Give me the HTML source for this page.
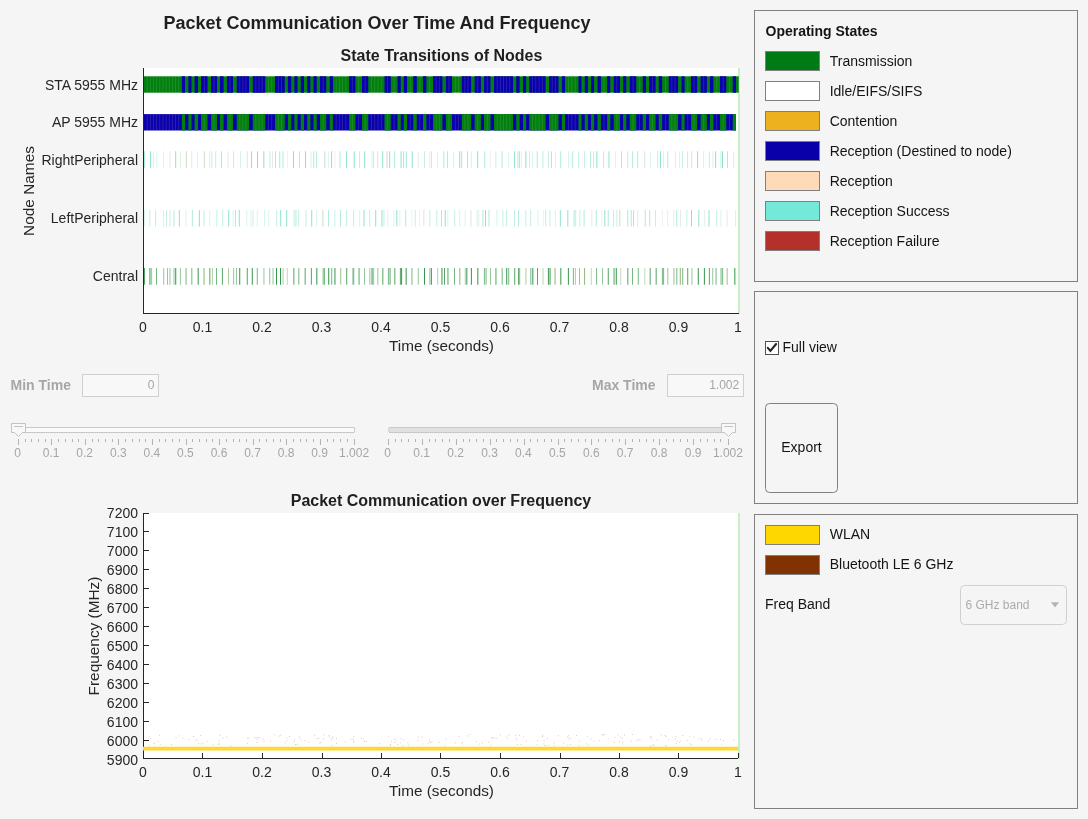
<!DOCTYPE html>
<html><head><meta charset="utf-8"><title>Packet Communication</title>
<style>
html,body{margin:0;padding:0;background:#f5f5f5;}
body{width:1088px;height:819px;overflow:hidden;}
svg{display:block;will-change:transform;font-family:"Liberation Sans",Arial,Helvetica,sans-serif;}
</style></head><body>
<svg width="1088" height="819" viewBox="0 0 1088 819">
<text x="377" y="29" font-size="18" text-anchor="middle" font-weight="bold" fill="#1f1f1f" >Packet Communication Over Time And Frequency</text>
<text x="441.5" y="61" font-size="16" text-anchor="middle" font-weight="bold" fill="#1f1f1f" >State Transitions of Nodes</text>
<rect x="143" y="68" width="595" height="246" fill="#ffffff" />
<rect x="738" y="68" width="2" height="246" fill="#c6f1c2" />
<rect x="144" y="76.3" width="594.75" height="16.4" fill="#01800f"/>
<path d="M181.90 76.3H185.00v16.4H181.90zM188.40 76.3H191.50v16.4H188.40zM194.60 76.3H198.00v16.4H194.60zM201.00 76.3H207.50v16.4H201.00zM211.00 76.3H217.00v16.4H211.00zM220.00 76.3H223.60v16.4H220.00zM226.90 76.3H233.00v16.4H226.90zM236.75 76.3H249.00v16.4H236.75zM252.75 76.3H265.25v16.4H252.75zM275.00 76.3H284.75v16.4H275.00zM287.90 76.3H291.25v16.4H287.90zM294.40 76.3H297.50v16.4H294.40zM300.75 76.3H304.00v16.4H300.75zM307.25 76.3H310.40v16.4H307.25zM313.50 76.3H316.75v16.4H313.50zM320.00 76.3H326.25v16.4H320.00zM329.75 76.3H332.90v16.4H329.75zM349.10 76.3H355.40v16.4H349.10zM362.00 76.3H368.25v16.4H362.00zM384.50 76.3H390.75v16.4H384.50zM397.50 76.3H400.75v16.4H397.50zM403.75 76.3H407.00v16.4H403.75zM413.25 76.3H416.75v16.4H413.25zM423.00 76.3H426.40v16.4H423.00zM433.00 76.3H442.40v16.4H433.00zM445.90 76.3H452.00v16.4H445.90zM461.75 76.3H471.10v16.4H461.75zM474.60 76.3H480.90v16.4H474.60zM484.00 76.3H490.50v16.4H484.00zM494.00 76.3H513.00v16.4H494.00zM516.25 76.3H519.60v16.4H516.25zM523.00 76.3H526.10v16.4H523.00zM529.25 76.3H545.60v16.4H529.25zM549.00 76.3H558.50v16.4H549.00zM561.90 76.3H565.00v16.4H561.90zM578.50 76.3H581.50v16.4H578.50zM584.75 76.3H587.90v16.4H584.75zM591.00 76.3H594.10v16.4H591.00zM597.50 76.3H600.90v16.4H597.50zM607.10 76.3H610.25v16.4H607.10zM613.75 76.3H620.00v16.4H613.75zM623.10 76.3H626.25v16.4H623.10zM629.75 76.3H636.25v16.4H629.75zM642.75 76.3H646.00v16.4H642.75zM649.10 76.3H655.60v16.4H649.10zM658.75 76.3H662.10v16.4H658.75zM668.75 76.3H678.10v16.4H668.75zM681.50 76.3H684.60v16.4H681.50zM691.00 76.3H697.10v16.4H691.00zM700.60 76.3H706.90v16.4H700.60zM710.00 76.3H713.40v16.4H710.00zM720.00 76.3H726.25v16.4H720.00zM732.75 76.3H736.00v16.4H732.75z" fill="#0a00ae"/>
<rect x="144" y="114.1" width="592.00" height="16.4" fill="#0a00ae"/>
<path d="M181.90 114.1H185.00v16.4H181.90zM188.40 114.1H191.50v16.4H188.40zM194.60 114.1H198.00v16.4H194.60zM201.00 114.1H207.50v16.4H201.00zM211.00 114.1H217.00v16.4H211.00zM220.00 114.1H223.60v16.4H220.00zM226.90 114.1H233.00v16.4H226.90zM236.75 114.1H249.00v16.4H236.75zM252.75 114.1H265.25v16.4H252.75zM275.00 114.1H284.75v16.4H275.00zM287.90 114.1H291.25v16.4H287.90zM294.40 114.1H297.50v16.4H294.40zM300.75 114.1H304.00v16.4H300.75zM307.25 114.1H310.40v16.4H307.25zM313.50 114.1H316.75v16.4H313.50zM320.00 114.1H326.25v16.4H320.00zM329.75 114.1H332.90v16.4H329.75zM349.10 114.1H355.40v16.4H349.10zM362.00 114.1H368.25v16.4H362.00zM384.50 114.1H390.75v16.4H384.50zM397.50 114.1H400.75v16.4H397.50zM403.75 114.1H407.00v16.4H403.75zM413.25 114.1H416.75v16.4H413.25zM423.00 114.1H426.40v16.4H423.00zM433.00 114.1H442.40v16.4H433.00zM445.90 114.1H452.00v16.4H445.90zM461.75 114.1H471.10v16.4H461.75zM474.60 114.1H480.90v16.4H474.60zM484.00 114.1H490.50v16.4H484.00zM494.00 114.1H513.00v16.4H494.00zM516.25 114.1H519.60v16.4H516.25zM523.00 114.1H526.10v16.4H523.00zM529.25 114.1H545.60v16.4H529.25zM549.00 114.1H558.50v16.4H549.00zM561.90 114.1H565.00v16.4H561.90zM578.50 114.1H581.50v16.4H578.50zM584.75 114.1H587.90v16.4H584.75zM591.00 114.1H594.10v16.4H591.00zM597.50 114.1H600.90v16.4H597.50zM607.10 114.1H610.25v16.4H607.10zM613.75 114.1H620.00v16.4H613.75zM623.10 114.1H626.25v16.4H623.10zM629.75 114.1H636.25v16.4H629.75zM642.75 114.1H646.00v16.4H642.75zM649.10 114.1H655.60v16.4H649.10zM658.75 114.1H662.10v16.4H658.75zM668.75 114.1H678.10v16.4H668.75zM681.50 114.1H684.60v16.4H681.50zM691.00 114.1H697.10v16.4H691.00zM700.60 114.1H706.90v16.4H700.60zM710.00 114.1H713.40v16.4H710.00zM720.00 114.1H726.25v16.4H720.00zM732.75 114.1H736.00v16.4H732.75z" fill="#01800f"/>
<path d="M146.76 76.3h0.8v16.4h-0.8zM146.76 114.1h0.8v16.4h-0.8zM149.92 76.3h0.8v16.4h-0.8zM149.92 114.1h0.8v16.4h-0.8zM153.07 76.3h0.8v16.4h-0.8zM153.07 114.1h0.8v16.4h-0.8zM156.23 76.3h0.8v16.4h-0.8zM156.23 114.1h0.8v16.4h-0.8zM159.39 76.3h0.8v16.4h-0.8zM159.39 114.1h0.8v16.4h-0.8zM162.55 76.3h0.8v16.4h-0.8zM162.55 114.1h0.8v16.4h-0.8zM165.71 76.3h0.8v16.4h-0.8zM165.71 114.1h0.8v16.4h-0.8zM168.87 76.3h0.8v16.4h-0.8zM168.87 114.1h0.8v16.4h-0.8zM172.03 76.3h0.8v16.4h-0.8zM172.03 114.1h0.8v16.4h-0.8zM175.18 76.3h0.8v16.4h-0.8zM175.18 114.1h0.8v16.4h-0.8zM178.34 76.3h0.8v16.4h-0.8zM178.34 114.1h0.8v16.4h-0.8zM203.85 76.3h0.8v16.4h-0.8zM203.85 114.1h0.8v16.4h-0.8zM213.60 76.3h0.8v16.4h-0.8zM213.60 114.1h0.8v16.4h-0.8zM229.55 76.3h0.8v16.4h-0.8zM229.55 114.1h0.8v16.4h-0.8zM239.41 76.3h0.8v16.4h-0.8zM239.41 114.1h0.8v16.4h-0.8zM242.47 76.3h0.8v16.4h-0.8zM242.47 114.1h0.8v16.4h-0.8zM245.54 76.3h0.8v16.4h-0.8zM245.54 114.1h0.8v16.4h-0.8zM255.47 76.3h0.8v16.4h-0.8zM255.47 114.1h0.8v16.4h-0.8zM258.60 76.3h0.8v16.4h-0.8zM258.60 114.1h0.8v16.4h-0.8zM261.73 76.3h0.8v16.4h-0.8zM261.73 114.1h0.8v16.4h-0.8zM268.10 76.3h0.8v16.4h-0.8zM268.10 114.1h0.8v16.4h-0.8zM271.35 76.3h0.8v16.4h-0.8zM271.35 114.1h0.8v16.4h-0.8zM277.85 76.3h0.8v16.4h-0.8zM277.85 114.1h0.8v16.4h-0.8zM281.10 76.3h0.8v16.4h-0.8zM281.10 114.1h0.8v16.4h-0.8zM322.73 76.3h0.8v16.4h-0.8zM322.73 114.1h0.8v16.4h-0.8zM335.74 76.3h0.8v16.4h-0.8zM335.74 114.1h0.8v16.4h-0.8zM338.98 76.3h0.8v16.4h-0.8zM338.98 114.1h0.8v16.4h-0.8zM342.22 76.3h0.8v16.4h-0.8zM342.22 114.1h0.8v16.4h-0.8zM345.46 76.3h0.8v16.4h-0.8zM345.46 114.1h0.8v16.4h-0.8zM351.85 76.3h0.8v16.4h-0.8zM351.85 114.1h0.8v16.4h-0.8zM358.30 76.3h0.8v16.4h-0.8zM358.30 114.1h0.8v16.4h-0.8zM364.73 76.3h0.8v16.4h-0.8zM364.73 114.1h0.8v16.4h-0.8zM371.10 76.3h0.8v16.4h-0.8zM371.10 114.1h0.8v16.4h-0.8zM374.35 76.3h0.8v16.4h-0.8zM374.35 114.1h0.8v16.4h-0.8zM377.60 76.3h0.8v16.4h-0.8zM377.60 114.1h0.8v16.4h-0.8zM380.85 76.3h0.8v16.4h-0.8zM380.85 114.1h0.8v16.4h-0.8zM387.23 76.3h0.8v16.4h-0.8zM387.23 114.1h0.8v16.4h-0.8zM393.73 76.3h0.8v16.4h-0.8zM393.73 114.1h0.8v16.4h-0.8zM409.73 76.3h0.8v16.4h-0.8zM409.73 114.1h0.8v16.4h-0.8zM419.48 76.3h0.8v16.4h-0.8zM419.48 114.1h0.8v16.4h-0.8zM429.30 76.3h0.8v16.4h-0.8zM429.30 114.1h0.8v16.4h-0.8zM435.73 76.3h0.8v16.4h-0.8zM435.73 114.1h0.8v16.4h-0.8zM438.87 76.3h0.8v16.4h-0.8zM438.87 114.1h0.8v16.4h-0.8zM448.55 76.3h0.8v16.4h-0.8zM448.55 114.1h0.8v16.4h-0.8zM454.85 76.3h0.8v16.4h-0.8zM454.85 114.1h0.8v16.4h-0.8zM458.10 76.3h0.8v16.4h-0.8zM458.10 114.1h0.8v16.4h-0.8zM464.47 76.3h0.8v16.4h-0.8zM464.47 114.1h0.8v16.4h-0.8zM467.58 76.3h0.8v16.4h-0.8zM467.58 114.1h0.8v16.4h-0.8zM477.35 76.3h0.8v16.4h-0.8zM477.35 114.1h0.8v16.4h-0.8zM486.85 76.3h0.8v16.4h-0.8zM486.85 114.1h0.8v16.4h-0.8zM496.77 76.3h0.8v16.4h-0.8zM496.77 114.1h0.8v16.4h-0.8zM499.93 76.3h0.8v16.4h-0.8zM499.93 114.1h0.8v16.4h-0.8zM503.10 76.3h0.8v16.4h-0.8zM503.10 114.1h0.8v16.4h-0.8zM506.27 76.3h0.8v16.4h-0.8zM506.27 114.1h0.8v16.4h-0.8zM509.43 76.3h0.8v16.4h-0.8zM509.43 114.1h0.8v16.4h-0.8zM532.12 76.3h0.8v16.4h-0.8zM532.12 114.1h0.8v16.4h-0.8zM535.39 76.3h0.8v16.4h-0.8zM535.39 114.1h0.8v16.4h-0.8zM538.66 76.3h0.8v16.4h-0.8zM538.66 114.1h0.8v16.4h-0.8zM541.93 76.3h0.8v16.4h-0.8zM541.93 114.1h0.8v16.4h-0.8zM551.77 76.3h0.8v16.4h-0.8zM551.77 114.1h0.8v16.4h-0.8zM554.93 76.3h0.8v16.4h-0.8zM554.93 114.1h0.8v16.4h-0.8zM567.98 76.3h0.8v16.4h-0.8zM567.98 114.1h0.8v16.4h-0.8zM571.35 76.3h0.8v16.4h-0.8zM571.35 114.1h0.8v16.4h-0.8zM574.73 76.3h0.8v16.4h-0.8zM574.73 114.1h0.8v16.4h-0.8zM603.60 76.3h0.8v16.4h-0.8zM603.60 114.1h0.8v16.4h-0.8zM616.48 76.3h0.8v16.4h-0.8zM616.48 114.1h0.8v16.4h-0.8zM632.60 76.3h0.8v16.4h-0.8zM632.60 114.1h0.8v16.4h-0.8zM639.10 76.3h0.8v16.4h-0.8zM639.10 114.1h0.8v16.4h-0.8zM651.95 76.3h0.8v16.4h-0.8zM651.95 114.1h0.8v16.4h-0.8zM665.02 76.3h0.8v16.4h-0.8zM665.02 114.1h0.8v16.4h-0.8zM671.47 76.3h0.8v16.4h-0.8zM671.47 114.1h0.8v16.4h-0.8zM674.58 76.3h0.8v16.4h-0.8zM674.58 114.1h0.8v16.4h-0.8zM687.40 76.3h0.8v16.4h-0.8zM687.40 114.1h0.8v16.4h-0.8zM693.65 76.3h0.8v16.4h-0.8zM693.65 114.1h0.8v16.4h-0.8zM703.35 76.3h0.8v16.4h-0.8zM703.35 114.1h0.8v16.4h-0.8zM716.30 76.3h0.8v16.4h-0.8zM716.30 114.1h0.8v16.4h-0.8zM722.73 76.3h0.8v16.4h-0.8zM722.73 114.1h0.8v16.4h-0.8zM729.10 76.3h0.8v16.4h-0.8zM729.10 114.1h0.8v16.4h-0.8z" fill="#c8c8a0" fill-opacity="0.2"/>
<path d="M144.00 151.3h0.75v16.7h-0.75zM221.00 151.3h0.75v16.7h-0.75zM275.30 151.3h0.75v16.7h-0.75zM279.40 151.3h0.75v16.7h-0.75zM282.60 151.3h0.75v16.7h-0.75zM299.20 151.3h0.75v16.7h-0.75zM313.40 151.3h0.75v16.7h-0.75zM316.40 151.3h0.75v16.7h-0.75zM339.60 151.3h0.75v16.7h-0.75zM394.40 151.3h0.75v16.7h-0.75zM403.20 151.3h0.75v16.7h-0.75zM406.20 151.3h0.75v16.7h-0.75zM443.50 151.3h0.75v16.7h-0.75zM447.30 151.3h0.75v16.7h-0.75zM484.40 151.3h0.75v16.7h-0.75zM501.70 151.3h0.75v16.7h-0.75zM517.60 151.3h0.75v16.7h-0.75zM519.30 151.3h0.75v16.7h-0.75zM536.80 151.3h0.75v16.7h-0.75zM551.20 151.3h0.75v16.7h-0.75zM560.40 151.3h0.75v16.7h-0.75zM572.40 151.3h0.75v16.7h-0.75zM590.30 151.3h0.75v16.7h-0.75zM621.10 151.3h0.75v16.7h-0.75zM632.40 151.3h0.75v16.7h-0.75zM637.40 151.3h0.75v16.7h-0.75zM667.40 151.3h0.75v16.7h-0.75zM727.20 151.3h0.75v16.7h-0.75z" fill="#4fd3b3" fill-opacity="0.6"/>
<path d="M150.30 151.3h0.75v16.7h-0.75zM175.40 151.3h0.75v16.7h-0.75zM251.30 151.3h0.75v16.7h-0.75zM257.10 151.3h0.75v16.7h-0.75zM263.50 151.3h0.75v16.7h-0.75zM293.10 151.3h0.75v16.7h-0.75zM305.10 151.3h0.75v16.7h-0.75zM331.30 151.3h0.75v16.7h-0.75zM346.30 151.3h0.75v16.7h-0.75zM353.80 151.3h0.75v16.7h-0.75zM364.40 151.3h0.75v16.7h-0.75zM382.40 151.3h0.75v16.7h-0.75zM389.40 151.3h0.75v16.7h-0.75zM400.70 151.3h0.75v16.7h-0.75zM411.80 151.3h0.75v16.7h-0.75zM459.40 151.3h0.75v16.7h-0.75zM477.40 151.3h0.75v16.7h-0.75zM514.30 151.3h0.75v16.7h-0.75zM525.50 151.3h0.75v16.7h-0.75zM596.50 151.3h0.75v16.7h-0.75zM608.60 151.3h0.75v16.7h-0.75zM660.20 151.3h0.75v16.7h-0.75zM697.30 151.3h0.75v16.7h-0.75zM715.30 151.3h0.75v16.7h-0.75zM722.20 151.3h0.75v16.7h-0.75z" fill="#4fd3b3" fill-opacity="0.85"/>
<path d="M153.30 151.3h0.75v16.7h-0.75zM156.50 151.3h0.75v16.7h-0.75zM163.30 151.3h0.75v16.7h-0.75zM191.40 151.3h0.75v16.7h-0.75zM197.40 151.3h0.75v16.7h-0.75zM240.00 151.3h0.75v16.7h-0.75zM310.60 151.3h0.75v16.7h-0.75zM328.30 151.3h0.75v16.7h-0.75zM371.60 151.3h0.75v16.7h-0.75zM437.30 151.3h0.75v16.7h-0.75zM453.40 151.3h0.75v16.7h-0.75zM470.90 151.3h0.75v16.7h-0.75zM508.30 151.3h0.75v16.7h-0.75zM521.30 151.3h0.75v16.7h-0.75zM532.40 151.3h0.75v16.7h-0.75zM555.10 151.3h0.75v16.7h-0.75zM568.20 151.3h0.75v16.7h-0.75zM615.30 151.3h0.75v16.7h-0.75zM650.20 151.3h0.75v16.7h-0.75zM663.20 151.3h0.75v16.7h-0.75zM675.20 151.3h0.75v16.7h-0.75zM679.30 151.3h0.75v16.7h-0.75zM703.10 151.3h0.75v16.7h-0.75zM712.60 151.3h0.75v16.7h-0.75z" fill="#4fd3b3" fill-opacity="0.3"/>
<path d="M169.60 151.3h0.75v16.7h-0.75zM179.90 151.3h0.75v16.7h-0.75zM209.40 151.3h0.75v16.7h-0.75zM227.70 151.3h0.75v16.7h-0.75zM272.30 151.3h0.75v16.7h-0.75zM417.80 151.3h0.75v16.7h-0.75zM429.50 151.3h0.75v16.7h-0.75zM733.40 151.3h0.75v16.7h-0.75z" fill="#b8c8a8" fill-opacity="0.45"/>
<path d="M185.90 151.3h0.75v16.7h-0.75zM203.90 151.3h0.75v16.7h-0.75zM324.50 151.3h0.75v16.7h-0.75zM386.60 151.3h0.75v16.7h-0.75zM461.40 151.3h0.75v16.7h-0.75zM467.30 151.3h0.75v16.7h-0.75z" fill="#b8c8a8" fill-opacity="0.85"/>
<path d="M211.50 151.3h0.75v16.7h-0.75zM215.40 151.3h0.75v16.7h-0.75zM233.30 151.3h0.75v16.7h-0.75zM246.80 151.3h0.75v16.7h-0.75zM269.60 151.3h0.75v16.7h-0.75zM373.20 151.3h0.75v16.7h-0.75zM377.40 151.3h0.75v16.7h-0.75zM424.00 151.3h0.75v16.7h-0.75zM431.10 151.3h0.75v16.7h-0.75zM495.50 151.3h0.75v16.7h-0.75zM542.60 151.3h0.75v16.7h-0.75zM548.20 151.3h0.75v16.7h-0.75zM578.40 151.3h0.75v16.7h-0.75zM584.20 151.3h0.75v16.7h-0.75zM593.30 151.3h0.75v16.7h-0.75zM603.30 151.3h0.75v16.7h-0.75zM627.40 151.3h0.75v16.7h-0.75zM657.40 151.3h0.75v16.7h-0.75zM682.30 151.3h0.75v16.7h-0.75zM687.30 151.3h0.75v16.7h-0.75zM708.90 151.3h0.75v16.7h-0.75zM720.60 151.3h0.75v16.7h-0.75z" fill="#4fd3b3" fill-opacity="0.45"/>
<path d="M287.30 151.3h0.75v16.7h-0.75zM334.50 151.3h0.75v16.7h-0.75zM490.00 151.3h0.75v16.7h-0.75z" fill="#b8c8a8" fill-opacity="0.3"/>
<path d="M359.10 151.3h0.75v16.7h-0.75zM529.30 151.3h0.75v16.7h-0.75zM644.40 151.3h0.75v16.7h-0.75zM691.50 151.3h0.75v16.7h-0.75z" fill="#b8c8a8" fill-opacity="0.6"/>
<path d="M144.00 209.9h0.75v16.6h-0.75zM185.60 209.9h0.75v16.6h-0.75zM209.40 209.9h0.75v16.6h-0.75zM232.70 209.9h0.75v16.6h-0.75zM246.50 209.9h0.75v16.6h-0.75zM250.50 209.9h0.75v16.6h-0.75zM256.80 209.9h0.75v16.6h-0.75zM264.30 209.9h0.75v16.6h-0.75zM268.50 209.9h0.75v16.6h-0.75zM316.40 209.9h0.75v16.6h-0.75zM359.40 209.9h0.75v16.6h-0.75zM387.40 209.9h0.75v16.6h-0.75zM393.50 209.9h0.75v16.6h-0.75zM399.50 209.9h0.75v16.6h-0.75zM447.50 209.9h0.75v16.6h-0.75zM459.40 209.9h0.75v16.6h-0.75zM464.80 209.9h0.75v16.6h-0.75zM478.40 209.9h0.75v16.6h-0.75zM496.40 209.9h0.75v16.6h-0.75zM537.60 209.9h0.75v16.6h-0.75zM554.90 209.9h0.75v16.6h-0.75zM667.40 209.9h0.75v16.6h-0.75zM673.50 209.9h0.75v16.6h-0.75zM720.60 209.9h0.75v16.6h-0.75zM735.20 209.9h0.75v16.6h-0.75z" fill="#4fd3b3" fill-opacity="0.3"/>
<path d="M149.50 209.9h0.75v16.6h-0.75zM155.30 209.9h0.75v16.6h-0.75zM166.10 209.9h0.75v16.6h-0.75zM169.50 209.9h0.75v16.6h-0.75zM203.60 209.9h0.75v16.6h-0.75zM216.50 209.9h0.75v16.6h-0.75zM222.40 209.9h0.75v16.6h-0.75zM276.40 209.9h0.75v16.6h-0.75zM293.70 209.9h0.75v16.6h-0.75zM298.40 209.9h0.75v16.6h-0.75zM305.60 209.9h0.75v16.6h-0.75zM334.50 209.9h0.75v16.6h-0.75zM346.30 209.9h0.75v16.6h-0.75zM353.30 209.9h0.75v16.6h-0.75zM369.40 209.9h0.75v16.6h-0.75zM383.60 209.9h0.75v16.6h-0.75zM414.80 209.9h0.75v16.6h-0.75zM429.50 209.9h0.75v16.6h-0.75zM436.50 209.9h0.75v16.6h-0.75zM454.40 209.9h0.75v16.6h-0.75zM502.50 209.9h0.75v16.6h-0.75zM506.30 209.9h0.75v16.6h-0.75zM514.30 209.9h0.75v16.6h-0.75zM525.50 209.9h0.75v16.6h-0.75zM530.40 209.9h0.75v16.6h-0.75zM545.40 209.9h0.75v16.6h-0.75zM549.60 209.9h0.75v16.6h-0.75zM575.40 209.9h0.75v16.6h-0.75zM579.50 209.9h0.75v16.6h-0.75zM616.50 209.9h0.75v16.6h-0.75zM655.20 209.9h0.75v16.6h-0.75zM686.50 209.9h0.75v16.6h-0.75zM716.40 209.9h0.75v16.6h-0.75z" fill="#4fd3b3" fill-opacity="0.45"/>
<path d="M163.30 209.9h0.75v16.6h-0.75zM476.70 209.9h0.75v16.6h-0.75zM591.50 209.9h0.75v16.6h-0.75zM637.40 209.9h0.75v16.6h-0.75zM680.30 209.9h0.75v16.6h-0.75zM704.40 209.9h0.75v16.6h-0.75zM726.70 209.9h0.75v16.6h-0.75z" fill="#b8c8a8" fill-opacity="0.45"/>
<path d="M173.60 209.9h0.75v16.6h-0.75zM191.90 209.9h0.75v16.6h-0.75zM235.20 209.9h0.75v16.6h-0.75zM295.60 209.9h0.75v16.6h-0.75zM328.30 209.9h0.75v16.6h-0.75zM340.30 209.9h0.75v16.6h-0.75zM405.40 209.9h0.75v16.6h-0.75zM441.00 209.9h0.75v16.6h-0.75zM482.60 209.9h0.75v16.6h-0.75zM488.60 209.9h0.75v16.6h-0.75zM518.30 209.9h0.75v16.6h-0.75zM573.70 209.9h0.75v16.6h-0.75zM583.70 209.9h0.75v16.6h-0.75zM595.80 209.9h0.75v16.6h-0.75zM607.80 209.9h0.75v16.6h-0.75zM627.40 209.9h0.75v16.6h-0.75zM630.80 209.9h0.75v16.6h-0.75zM633.10 209.9h0.75v16.6h-0.75zM649.40 209.9h0.75v16.6h-0.75zM676.40 209.9h0.75v16.6h-0.75z" fill="#4fd3b3" fill-opacity="0.6"/>
<path d="M178.90 209.9h0.75v16.6h-0.75zM198.90 209.9h0.75v16.6h-0.75zM228.40 209.9h0.75v16.6h-0.75zM238.80 209.9h0.75v16.6h-0.75zM280.40 209.9h0.75v16.6h-0.75zM286.40 209.9h0.75v16.6h-0.75zM311.40 209.9h0.75v16.6h-0.75zM363.60 209.9h0.75v16.6h-0.75zM375.40 209.9h0.75v16.6h-0.75zM381.60 209.9h0.75v16.6h-0.75zM396.50 209.9h0.75v16.6h-0.75zM444.80 209.9h0.75v16.6h-0.75zM485.20 209.9h0.75v16.6h-0.75zM559.90 209.9h0.75v16.6h-0.75zM567.50 209.9h0.75v16.6h-0.75zM604.50 209.9h0.75v16.6h-0.75zM691.00 209.9h0.75v16.6h-0.75zM698.50 209.9h0.75v16.6h-0.75zM708.60 209.9h0.75v16.6h-0.75z" fill="#4fd3b3" fill-opacity="0.85"/>
<path d="M252.60 209.9h0.75v16.6h-0.75zM423.50 209.9h0.75v16.6h-0.75zM470.60 209.9h0.75v16.6h-0.75zM613.30 209.9h0.75v16.6h-0.75z" fill="#b8c8a8" fill-opacity="0.6"/>
<path d="M322.50 209.9h0.75v16.6h-0.75zM619.50 209.9h0.75v16.6h-0.75zM644.80 209.9h0.75v16.6h-0.75z" fill="#b8c8a8" fill-opacity="0.85"/>
<path d="M411.50 209.9h0.75v16.6h-0.75zM419.30 209.9h0.75v16.6h-0.75zM543.30 209.9h0.75v16.6h-0.75zM601.50 209.9h0.75v16.6h-0.75zM661.90 209.9h0.75v16.6h-0.75z" fill="#b8c8a8" fill-opacity="0.3"/>
<path d="M144.00 268.1h0.9v16.7h-0.9zM209.40 268.1h0.9v16.7h-0.9zM221.90 268.1h0.9v16.7h-0.9zM246.80 268.1h0.9v16.7h-0.9zM293.40 268.1h0.9v16.7h-0.9zM304.70 268.1h0.9v16.7h-0.9zM310.90 268.1h0.9v16.7h-0.9zM346.30 268.1h0.9v16.7h-0.9zM358.60 268.1h0.9v16.7h-0.9zM382.40 268.1h0.9v16.7h-0.9zM389.60 268.1h0.9v16.7h-0.9zM394.40 268.1h0.9v16.7h-0.9zM399.90 268.1h0.9v16.7h-0.9zM431.10 268.1h0.9v16.7h-0.9zM444.00 268.1h0.9v16.7h-0.9zM447.50 268.1h0.9v16.7h-0.9zM495.50 268.1h0.9v16.7h-0.9zM514.30 268.1h0.9v16.7h-0.9zM537.10 268.1h0.9v16.7h-0.9zM607.80 268.1h0.9v16.7h-0.9zM613.60 268.1h0.9v16.7h-0.9zM627.40 268.1h0.9v16.7h-0.9zM649.70 268.1h0.9v16.7h-0.9zM655.70 268.1h0.9v16.7h-0.9zM687.30 268.1h0.9v16.7h-0.9zM708.90 268.1h0.9v16.7h-0.9z" fill="#12862a" fill-opacity="0.8"/>
<path d="M149.50 268.1h0.9v16.7h-0.9zM175.30 268.1h0.9v16.7h-0.9zM197.70 268.1h0.9v16.7h-0.9zM239.30 268.1h0.9v16.7h-0.9zM251.80 268.1h0.9v16.7h-0.9zM276.00 268.1h0.9v16.7h-0.9zM280.10 268.1h0.9v16.7h-0.9zM316.40 268.1h0.9v16.7h-0.9zM323.70 268.1h0.9v16.7h-0.9zM328.30 268.1h0.9v16.7h-0.9zM334.50 268.1h0.9v16.7h-0.9zM371.60 268.1h0.9v16.7h-0.9zM401.20 268.1h0.9v16.7h-0.9zM405.70 268.1h0.9v16.7h-0.9zM424.00 268.1h0.9v16.7h-0.9zM441.50 268.1h0.9v16.7h-0.9zM466.40 268.1h0.9v16.7h-0.9zM470.90 268.1h0.9v16.7h-0.9zM477.40 268.1h0.9v16.7h-0.9zM506.30 268.1h0.9v16.7h-0.9zM518.30 268.1h0.9v16.7h-0.9zM532.40 268.1h0.9v16.7h-0.9zM547.90 268.1h0.9v16.7h-0.9zM549.60 268.1h0.9v16.7h-0.9zM560.40 268.1h0.9v16.7h-0.9zM567.90 268.1h0.9v16.7h-0.9zM615.80 268.1h0.9v16.7h-0.9zM697.80 268.1h0.9v16.7h-0.9zM703.90 268.1h0.9v16.7h-0.9zM734.40 268.1h0.9v16.7h-0.9z" fill="#12862a" fill-opacity="0.95"/>
<path d="M151.20 268.1h0.9v16.7h-0.9zM163.30 268.1h0.9v16.7h-0.9zM167.00 268.1h0.9v16.7h-0.9zM169.50 268.1h0.9v16.7h-0.9zM173.60 268.1h0.9v16.7h-0.9zM179.90 268.1h0.9v16.7h-0.9zM233.20 268.1h0.9v16.7h-0.9zM236.00 268.1h0.9v16.7h-0.9zM263.50 268.1h0.9v16.7h-0.9zM269.30 268.1h0.9v16.7h-0.9zM272.60 268.1h0.9v16.7h-0.9zM352.40 268.1h0.9v16.7h-0.9zM364.10 268.1h0.9v16.7h-0.9zM369.40 268.1h0.9v16.7h-0.9zM373.20 268.1h0.9v16.7h-0.9zM377.40 268.1h0.9v16.7h-0.9zM417.80 268.1h0.9v16.7h-0.9zM490.00 268.1h0.9v16.7h-0.9zM579.00 268.1h0.9v16.7h-0.9zM602.00 268.1h0.9v16.7h-0.9zM667.40 268.1h0.9v16.7h-0.9zM691.50 268.1h0.9v16.7h-0.9zM712.30 268.1h0.9v16.7h-0.9z" fill="#12862a" fill-opacity="0.5"/>
<path d="M156.10 268.1h0.9v16.7h-0.9zM185.60 268.1h0.9v16.7h-0.9zM191.40 268.1h0.9v16.7h-0.9zM216.00 268.1h0.9v16.7h-0.9zM256.80 268.1h0.9v16.7h-0.9zM298.40 268.1h0.9v16.7h-0.9zM331.30 268.1h0.9v16.7h-0.9zM353.30 268.1h0.9v16.7h-0.9zM387.90 268.1h0.9v16.7h-0.9zM411.50 268.1h0.9v16.7h-0.9zM429.50 268.1h0.9v16.7h-0.9zM454.00 268.1h0.9v16.7h-0.9zM483.90 268.1h0.9v16.7h-0.9zM485.60 268.1h0.9v16.7h-0.9zM501.70 268.1h0.9v16.7h-0.9zM508.30 268.1h0.9v16.7h-0.9zM530.40 268.1h0.9v16.7h-0.9zM572.90 268.1h0.9v16.7h-0.9zM596.20 268.1h0.9v16.7h-0.9zM632.00 268.1h0.9v16.7h-0.9zM637.80 268.1h0.9v16.7h-0.9zM661.90 268.1h0.9v16.7h-0.9zM663.20 268.1h0.9v16.7h-0.9zM676.40 268.1h0.9v16.7h-0.9zM682.30 268.1h0.9v16.7h-0.9zM715.60 268.1h0.9v16.7h-0.9zM720.60 268.1h0.9v16.7h-0.9zM722.20 268.1h0.9v16.7h-0.9z" fill="#12862a" fill-opacity="0.65"/>
<path d="M203.60 268.1h0.9v16.7h-0.9zM459.40 268.1h0.9v16.7h-0.9zM554.60 268.1h0.9v16.7h-0.9zM584.20 268.1h0.9v16.7h-0.9zM679.80 268.1h0.9v16.7h-0.9z" fill="#7aa860" fill-opacity="0.95"/>
<path d="M211.90 268.1h0.9v16.7h-0.9zM228.00 268.1h0.9v16.7h-0.9zM282.60 268.1h0.9v16.7h-0.9zM322.50 268.1h0.9v16.7h-0.9zM437.30 268.1h0.9v16.7h-0.9zM464.80 268.1h0.9v16.7h-0.9zM525.50 268.1h0.9v16.7h-0.9zM574.90 268.1h0.9v16.7h-0.9z" fill="#7aa860" fill-opacity="0.65"/>
<path d="M286.80 268.1h0.9v16.7h-0.9zM542.60 268.1h0.9v16.7h-0.9zM590.80 268.1h0.9v16.7h-0.9zM620.30 268.1h0.9v16.7h-0.9zM644.40 268.1h0.9v16.7h-0.9z" fill="#7aa860" fill-opacity="0.5"/>
<path d="M340.30 268.1h0.9v16.7h-0.9zM519.30 268.1h0.9v16.7h-0.9zM673.50 268.1h0.9v16.7h-0.9zM726.70 268.1h0.9v16.7h-0.9z" fill="#7aa860" fill-opacity="0.8"/>
<line x1="143.5" y1="68" x2="143.5" y2="314" stroke="#262626" stroke-width="1" />
<line x1="143" y1="313.5" x2="739" y2="313.5" stroke="#262626" stroke-width="1" />
<text x="138" y="90" font-size="14" text-anchor="end" font-weight="normal" fill="#262626" >STA 5955 MHz</text>
<text x="138" y="127" font-size="14" text-anchor="end" font-weight="normal" fill="#262626" >AP 5955 MHz</text>
<text x="138" y="165" font-size="14" text-anchor="end" font-weight="normal" fill="#262626" >RightPeripheral</text>
<text x="138" y="223" font-size="14" text-anchor="end" font-weight="normal" fill="#262626" >LeftPeripheral</text>
<text x="138" y="281" font-size="14" text-anchor="end" font-weight="normal" fill="#262626" >Central</text>
<text x="143.0" y="332" font-size="14" text-anchor="middle" font-weight="normal" fill="#262626" >0</text>
<text x="202.5" y="332" font-size="14" text-anchor="middle" font-weight="normal" fill="#262626" >0.1</text>
<text x="262.0" y="332" font-size="14" text-anchor="middle" font-weight="normal" fill="#262626" >0.2</text>
<text x="321.5" y="332" font-size="14" text-anchor="middle" font-weight="normal" fill="#262626" >0.3</text>
<text x="381.0" y="332" font-size="14" text-anchor="middle" font-weight="normal" fill="#262626" >0.4</text>
<text x="440.5" y="332" font-size="14" text-anchor="middle" font-weight="normal" fill="#262626" >0.5</text>
<text x="500.0" y="332" font-size="14" text-anchor="middle" font-weight="normal" fill="#262626" >0.6</text>
<text x="559.5" y="332" font-size="14" text-anchor="middle" font-weight="normal" fill="#262626" >0.7</text>
<text x="619.0" y="332" font-size="14" text-anchor="middle" font-weight="normal" fill="#262626" >0.8</text>
<text x="678.5" y="332" font-size="14" text-anchor="middle" font-weight="normal" fill="#262626" >0.9</text>
<text x="738.0" y="332" font-size="14" text-anchor="middle" font-weight="normal" fill="#262626" >1</text>
<text x="441.5" y="351" font-size="15.3" text-anchor="middle" font-weight="normal" fill="#262626" >Time (seconds)</text>
<text x="0" y="0" font-size="15.4" text-anchor="middle" font-weight="normal" fill="#262626" transform="translate(34,191) rotate(-90)">Node Names</text>
<text x="10.5" y="390" font-size="14" text-anchor="start" font-weight="bold" fill="#a6a6a6" >Min Time</text>
<rect x="82.5" y="374.5" width="76" height="22" fill="#f8f8f8" stroke="#cfcfcf" stroke-width="1" />
<text x="154.5" y="389" font-size="12" text-anchor="end" font-weight="normal" fill="#a6a6a6" >0</text>
<text x="592" y="390" font-size="14" text-anchor="start" font-weight="bold" fill="#a6a6a6" >Max Time</text>
<rect x="667.5" y="374.5" width="76" height="22" fill="#f8f8f8" stroke="#cfcfcf" stroke-width="1" />
<text x="739.2" y="389" font-size="12" text-anchor="end" font-weight="normal" fill="#a6a6a6" >1.002</text>
<rect x="18.8" y="427.5" width="335.8" height="5" fill="#fafafa" stroke="#c8c8c8" stroke-width="1" rx="0.5" />
<line x1="18.5" y1="439" x2="18.5" y2="445" stroke="#b3b3b3" stroke-width="1" />
<line x1="25.5" y1="439" x2="25.5" y2="442" stroke="#b3b3b3" stroke-width="1" />
<line x1="31.5" y1="439" x2="31.5" y2="442" stroke="#b3b3b3" stroke-width="1" />
<line x1="38.5" y1="439" x2="38.5" y2="442" stroke="#b3b3b3" stroke-width="1" />
<line x1="45.5" y1="439" x2="45.5" y2="442" stroke="#b3b3b3" stroke-width="1" />
<line x1="51.5" y1="439" x2="51.5" y2="445" stroke="#b3b3b3" stroke-width="1" />
<line x1="58.5" y1="439" x2="58.5" y2="442" stroke="#b3b3b3" stroke-width="1" />
<line x1="65.5" y1="439" x2="65.5" y2="442" stroke="#b3b3b3" stroke-width="1" />
<line x1="72.5" y1="439" x2="72.5" y2="442" stroke="#b3b3b3" stroke-width="1" />
<line x1="78.5" y1="439" x2="78.5" y2="442" stroke="#b3b3b3" stroke-width="1" />
<line x1="85.5" y1="439" x2="85.5" y2="445" stroke="#b3b3b3" stroke-width="1" />
<line x1="92.5" y1="439" x2="92.5" y2="442" stroke="#b3b3b3" stroke-width="1" />
<line x1="98.5" y1="439" x2="98.5" y2="442" stroke="#b3b3b3" stroke-width="1" />
<line x1="105.5" y1="439" x2="105.5" y2="442" stroke="#b3b3b3" stroke-width="1" />
<line x1="112.5" y1="439" x2="112.5" y2="442" stroke="#b3b3b3" stroke-width="1" />
<line x1="118.5" y1="439" x2="118.5" y2="445" stroke="#b3b3b3" stroke-width="1" />
<line x1="125.5" y1="439" x2="125.5" y2="442" stroke="#b3b3b3" stroke-width="1" />
<line x1="132.5" y1="439" x2="132.5" y2="442" stroke="#b3b3b3" stroke-width="1" />
<line x1="139.5" y1="439" x2="139.5" y2="442" stroke="#b3b3b3" stroke-width="1" />
<line x1="145.5" y1="439" x2="145.5" y2="442" stroke="#b3b3b3" stroke-width="1" />
<line x1="152.5" y1="439" x2="152.5" y2="445" stroke="#b3b3b3" stroke-width="1" />
<line x1="159.5" y1="439" x2="159.5" y2="442" stroke="#b3b3b3" stroke-width="1" />
<line x1="165.5" y1="439" x2="165.5" y2="442" stroke="#b3b3b3" stroke-width="1" />
<line x1="172.5" y1="439" x2="172.5" y2="442" stroke="#b3b3b3" stroke-width="1" />
<line x1="179.5" y1="439" x2="179.5" y2="442" stroke="#b3b3b3" stroke-width="1" />
<line x1="186.5" y1="439" x2="186.5" y2="445" stroke="#b3b3b3" stroke-width="1" />
<line x1="192.5" y1="439" x2="192.5" y2="442" stroke="#b3b3b3" stroke-width="1" />
<line x1="199.5" y1="439" x2="199.5" y2="442" stroke="#b3b3b3" stroke-width="1" />
<line x1="206.5" y1="439" x2="206.5" y2="442" stroke="#b3b3b3" stroke-width="1" />
<line x1="212.5" y1="439" x2="212.5" y2="442" stroke="#b3b3b3" stroke-width="1" />
<line x1="219.5" y1="439" x2="219.5" y2="445" stroke="#b3b3b3" stroke-width="1" />
<line x1="226.5" y1="439" x2="226.5" y2="442" stroke="#b3b3b3" stroke-width="1" />
<line x1="233.5" y1="439" x2="233.5" y2="442" stroke="#b3b3b3" stroke-width="1" />
<line x1="239.5" y1="439" x2="239.5" y2="442" stroke="#b3b3b3" stroke-width="1" />
<line x1="246.5" y1="439" x2="246.5" y2="442" stroke="#b3b3b3" stroke-width="1" />
<line x1="253.5" y1="439" x2="253.5" y2="445" stroke="#b3b3b3" stroke-width="1" />
<line x1="259.5" y1="439" x2="259.5" y2="442" stroke="#b3b3b3" stroke-width="1" />
<line x1="266.5" y1="439" x2="266.5" y2="442" stroke="#b3b3b3" stroke-width="1" />
<line x1="273.5" y1="439" x2="273.5" y2="442" stroke="#b3b3b3" stroke-width="1" />
<line x1="280.5" y1="439" x2="280.5" y2="442" stroke="#b3b3b3" stroke-width="1" />
<line x1="286.5" y1="439" x2="286.5" y2="445" stroke="#b3b3b3" stroke-width="1" />
<line x1="293.5" y1="439" x2="293.5" y2="442" stroke="#b3b3b3" stroke-width="1" />
<line x1="300.5" y1="439" x2="300.5" y2="442" stroke="#b3b3b3" stroke-width="1" />
<line x1="306.5" y1="439" x2="306.5" y2="442" stroke="#b3b3b3" stroke-width="1" />
<line x1="313.5" y1="439" x2="313.5" y2="442" stroke="#b3b3b3" stroke-width="1" />
<line x1="320.5" y1="439" x2="320.5" y2="445" stroke="#b3b3b3" stroke-width="1" />
<line x1="327.5" y1="439" x2="327.5" y2="442" stroke="#b3b3b3" stroke-width="1" />
<line x1="333.5" y1="439" x2="333.5" y2="442" stroke="#b3b3b3" stroke-width="1" />
<line x1="340.5" y1="439" x2="340.5" y2="442" stroke="#b3b3b3" stroke-width="1" />
<line x1="347.5" y1="439" x2="347.5" y2="442" stroke="#b3b3b3" stroke-width="1" />
<line x1="354.5" y1="439" x2="354.5" y2="445" stroke="#b3b3b3" stroke-width="1" />
<text x="17.6" y="457" font-size="12" text-anchor="middle" font-weight="normal" fill="#a6a6a6" >0</text>
<text x="51.2" y="457" font-size="12" text-anchor="middle" font-weight="normal" fill="#a6a6a6" >0.1</text>
<text x="84.7" y="457" font-size="12" text-anchor="middle" font-weight="normal" fill="#a6a6a6" >0.2</text>
<text x="118.3" y="457" font-size="12" text-anchor="middle" font-weight="normal" fill="#a6a6a6" >0.3</text>
<text x="151.9" y="457" font-size="12" text-anchor="middle" font-weight="normal" fill="#a6a6a6" >0.4</text>
<text x="185.4" y="457" font-size="12" text-anchor="middle" font-weight="normal" fill="#a6a6a6" >0.5</text>
<text x="219.0" y="457" font-size="12" text-anchor="middle" font-weight="normal" fill="#a6a6a6" >0.6</text>
<text x="252.5" y="457" font-size="12" text-anchor="middle" font-weight="normal" fill="#a6a6a6" >0.7</text>
<text x="286.1" y="457" font-size="12" text-anchor="middle" font-weight="normal" fill="#a6a6a6" >0.8</text>
<text x="319.7" y="457" font-size="12" text-anchor="middle" font-weight="normal" fill="#a6a6a6" >0.9</text>
<text x="354.1" y="457" font-size="12" text-anchor="middle" font-weight="normal" fill="#a6a6a6" >1.002</text>
<path d="M11.5,423.5 H25.5 V432.5 H22.5 L18.5,436.5 L14.5,432.5 H11.5 Z" fill="#f8f8f8" stroke="#c3c3c3"/>
<line x1="14.0" y1="426.5" x2="23.0" y2="426.5" stroke="#c3c3c3" stroke-width="1" />
<rect x="388.9" y="427.5" width="339.5" height="5" fill="#e1e1e1" stroke="#c8c8c8" stroke-width="1" rx="0.5" />
<line x1="388.5" y1="439" x2="388.5" y2="445" stroke="#b3b3b3" stroke-width="1" />
<line x1="395.5" y1="439" x2="395.5" y2="442" stroke="#b3b3b3" stroke-width="1" />
<line x1="401.5" y1="439" x2="401.5" y2="442" stroke="#b3b3b3" stroke-width="1" />
<line x1="408.5" y1="439" x2="408.5" y2="442" stroke="#b3b3b3" stroke-width="1" />
<line x1="415.5" y1="439" x2="415.5" y2="442" stroke="#b3b3b3" stroke-width="1" />
<line x1="422.5" y1="439" x2="422.5" y2="445" stroke="#b3b3b3" stroke-width="1" />
<line x1="429.5" y1="439" x2="429.5" y2="442" stroke="#b3b3b3" stroke-width="1" />
<line x1="435.5" y1="439" x2="435.5" y2="442" stroke="#b3b3b3" stroke-width="1" />
<line x1="442.5" y1="439" x2="442.5" y2="442" stroke="#b3b3b3" stroke-width="1" />
<line x1="449.5" y1="439" x2="449.5" y2="442" stroke="#b3b3b3" stroke-width="1" />
<line x1="456.5" y1="439" x2="456.5" y2="445" stroke="#b3b3b3" stroke-width="1" />
<line x1="463.5" y1="439" x2="463.5" y2="442" stroke="#b3b3b3" stroke-width="1" />
<line x1="469.5" y1="439" x2="469.5" y2="442" stroke="#b3b3b3" stroke-width="1" />
<line x1="476.5" y1="439" x2="476.5" y2="442" stroke="#b3b3b3" stroke-width="1" />
<line x1="483.5" y1="439" x2="483.5" y2="442" stroke="#b3b3b3" stroke-width="1" />
<line x1="490.5" y1="439" x2="490.5" y2="445" stroke="#b3b3b3" stroke-width="1" />
<line x1="496.5" y1="439" x2="496.5" y2="442" stroke="#b3b3b3" stroke-width="1" />
<line x1="503.5" y1="439" x2="503.5" y2="442" stroke="#b3b3b3" stroke-width="1" />
<line x1="510.5" y1="439" x2="510.5" y2="442" stroke="#b3b3b3" stroke-width="1" />
<line x1="517.5" y1="439" x2="517.5" y2="442" stroke="#b3b3b3" stroke-width="1" />
<line x1="524.5" y1="439" x2="524.5" y2="445" stroke="#b3b3b3" stroke-width="1" />
<line x1="530.5" y1="439" x2="530.5" y2="442" stroke="#b3b3b3" stroke-width="1" />
<line x1="537.5" y1="439" x2="537.5" y2="442" stroke="#b3b3b3" stroke-width="1" />
<line x1="544.5" y1="439" x2="544.5" y2="442" stroke="#b3b3b3" stroke-width="1" />
<line x1="551.5" y1="439" x2="551.5" y2="442" stroke="#b3b3b3" stroke-width="1" />
<line x1="558.5" y1="439" x2="558.5" y2="445" stroke="#b3b3b3" stroke-width="1" />
<line x1="564.5" y1="439" x2="564.5" y2="442" stroke="#b3b3b3" stroke-width="1" />
<line x1="571.5" y1="439" x2="571.5" y2="442" stroke="#b3b3b3" stroke-width="1" />
<line x1="578.5" y1="439" x2="578.5" y2="442" stroke="#b3b3b3" stroke-width="1" />
<line x1="585.5" y1="439" x2="585.5" y2="442" stroke="#b3b3b3" stroke-width="1" />
<line x1="591.5" y1="439" x2="591.5" y2="445" stroke="#b3b3b3" stroke-width="1" />
<line x1="598.5" y1="439" x2="598.5" y2="442" stroke="#b3b3b3" stroke-width="1" />
<line x1="605.5" y1="439" x2="605.5" y2="442" stroke="#b3b3b3" stroke-width="1" />
<line x1="612.5" y1="439" x2="612.5" y2="442" stroke="#b3b3b3" stroke-width="1" />
<line x1="619.5" y1="439" x2="619.5" y2="442" stroke="#b3b3b3" stroke-width="1" />
<line x1="625.5" y1="439" x2="625.5" y2="445" stroke="#b3b3b3" stroke-width="1" />
<line x1="632.5" y1="439" x2="632.5" y2="442" stroke="#b3b3b3" stroke-width="1" />
<line x1="639.5" y1="439" x2="639.5" y2="442" stroke="#b3b3b3" stroke-width="1" />
<line x1="646.5" y1="439" x2="646.5" y2="442" stroke="#b3b3b3" stroke-width="1" />
<line x1="653.5" y1="439" x2="653.5" y2="442" stroke="#b3b3b3" stroke-width="1" />
<line x1="659.5" y1="439" x2="659.5" y2="445" stroke="#b3b3b3" stroke-width="1" />
<line x1="666.5" y1="439" x2="666.5" y2="442" stroke="#b3b3b3" stroke-width="1" />
<line x1="673.5" y1="439" x2="673.5" y2="442" stroke="#b3b3b3" stroke-width="1" />
<line x1="680.5" y1="439" x2="680.5" y2="442" stroke="#b3b3b3" stroke-width="1" />
<line x1="687.5" y1="439" x2="687.5" y2="442" stroke="#b3b3b3" stroke-width="1" />
<line x1="693.5" y1="439" x2="693.5" y2="445" stroke="#b3b3b3" stroke-width="1" />
<line x1="700.5" y1="439" x2="700.5" y2="442" stroke="#b3b3b3" stroke-width="1" />
<line x1="707.5" y1="439" x2="707.5" y2="442" stroke="#b3b3b3" stroke-width="1" />
<line x1="714.5" y1="439" x2="714.5" y2="442" stroke="#b3b3b3" stroke-width="1" />
<line x1="720.5" y1="439" x2="720.5" y2="442" stroke="#b3b3b3" stroke-width="1" />
<line x1="728.5" y1="439" x2="728.5" y2="445" stroke="#b3b3b3" stroke-width="1" />
<text x="387.7" y="457" font-size="12" text-anchor="middle" font-weight="normal" fill="#a6a6a6" >0</text>
<text x="421.6" y="457" font-size="12" text-anchor="middle" font-weight="normal" fill="#a6a6a6" >0.1</text>
<text x="455.6" y="457" font-size="12" text-anchor="middle" font-weight="normal" fill="#a6a6a6" >0.2</text>
<text x="489.5" y="457" font-size="12" text-anchor="middle" font-weight="normal" fill="#a6a6a6" >0.3</text>
<text x="523.4" y="457" font-size="12" text-anchor="middle" font-weight="normal" fill="#a6a6a6" >0.4</text>
<text x="557.4" y="457" font-size="12" text-anchor="middle" font-weight="normal" fill="#a6a6a6" >0.5</text>
<text x="591.3" y="457" font-size="12" text-anchor="middle" font-weight="normal" fill="#a6a6a6" >0.6</text>
<text x="625.2" y="457" font-size="12" text-anchor="middle" font-weight="normal" fill="#a6a6a6" >0.7</text>
<text x="659.2" y="457" font-size="12" text-anchor="middle" font-weight="normal" fill="#a6a6a6" >0.8</text>
<text x="693.1" y="457" font-size="12" text-anchor="middle" font-weight="normal" fill="#a6a6a6" >0.9</text>
<text x="727.9" y="457" font-size="12" text-anchor="middle" font-weight="normal" fill="#a6a6a6" >1.002</text>
<path d="M721.5,423.5 H735.5 V432.5 H732.5 L728.5,436.5 L724.5,432.5 H721.5 Z" fill="#f8f8f8" stroke="#c3c3c3"/>
<line x1="724.0" y1="426.5" x2="733.0" y2="426.5" stroke="#c3c3c3" stroke-width="1" />
<text x="441" y="506" font-size="16" text-anchor="middle" font-weight="bold" fill="#1f1f1f" >Packet Communication over Frequency</text>
<rect x="143" y="513" width="595" height="246" fill="#ffffff" />
<path d="M286.4 740.3h1v1h-1zM364.3 740.9h1v1h-1zM515.2 734.8h1v1h-1zM153.8 743.6h1v1h-1zM299.0 736.7h1v1h-1zM733.4 739.4h1v1h-1zM639.5 739.5h1v1h-1zM523.1 735.7h1v1h-1zM520.6 744.0h1v1h-1zM454.7 742.5h1v1h-1zM542.1 734.7h1v1h-1zM593.4 740.8h1v1h-1zM323.7 734.4h1v1h-1zM656.7 739.4h1v1h-1zM570.1 744.1h1v1h-1zM567.3 744.6h1v1h-1zM379.0 743.2h1v1h-1zM408.3 744.8h1v1h-1zM664.5 735.1h1v1h-1zM226.2 736.5h1v1h-1zM715.6 739.0h1v1h-1zM515.7 737.5h1v1h-1zM445.3 738.4h1v1h-1zM353.0 740.7h1v1h-1zM490.7 744.4h1v1h-1zM548.4 744.7h1v1h-1zM651.3 745.4h1v1h-1zM542.1 735.9h1v1h-1zM653.8 745.1h1v1h-1zM679.8 740.5h1v1h-1zM567.2 736.4h1v1h-1zM636.6 740.6h1v1h-1zM314.1 734.7h1v1h-1zM649.8 745.4h1v1h-1zM198.2 743.2h1v1h-1zM388.2 735.7h1v1h-1zM319.4 742.8h1v1h-1zM660.9 734.5h1v1h-1zM508.6 734.5h1v1h-1zM569.9 737.8h1v1h-1zM665.7 745.3h1v1h-1zM444.2 745.5h1v1h-1zM328.7 734.9h1v1h-1zM499.9 734.4h1v1h-1zM262.5 738.7h1v1h-1zM506.2 735.8h1v1h-1zM171.0 744.0h1v1h-1zM331.2 745.0h1v1h-1zM675.0 738.3h1v1h-1zM417.6 740.0h1v1h-1zM525.9 740.8h1v1h-1zM476.0 741.1h1v1h-1zM701.0 739.8h1v1h-1zM400.4 742.3h1v1h-1zM286.2 737.5h1v1h-1zM722.9 740.0h1v1h-1zM469.6 734.1h1v1h-1zM391.0 740.7h1v1h-1zM157.8 741.1h1v1h-1zM519.0 734.7h1v1h-1zM516.1 739.4h1v1h-1zM546.8 738.1h1v1h-1zM563.1 742.5h1v1h-1zM159.1 734.7h1v1h-1zM544.9 745.1h1v1h-1zM294.2 739.2h1v1h-1zM495.7 737.7h1v1h-1zM360.7 737.6h1v1h-1zM363.8 740.8h1v1h-1zM323.2 738.3h1v1h-1zM601.6 734.3h1v1h-1zM481.9 742.5h1v1h-1zM328.9 736.6h1v1h-1zM620.2 736.7h1v1h-1zM256.6 739.0h1v1h-1zM557.9 735.2h1v1h-1zM336.0 737.8h1v1h-1zM637.8 739.0h1v1h-1zM650.8 735.9h1v1h-1zM344.7 741.5h1v1h-1zM668.1 739.2h1v1h-1zM278.8 735.4h1v1h-1zM458.5 736.2h1v1h-1zM622.0 743.6h1v1h-1zM254.3 737.2h1v1h-1zM622.3 741.4h1v1h-1zM621.7 738.0h1v1h-1zM222.5 737.4h1v1h-1zM614.4 737.1h1v1h-1zM350.3 738.8h1v1h-1zM393.7 738.7h1v1h-1zM689.2 735.8h1v1h-1zM148.8 744.8h1v1h-1zM665.2 745.3h1v1h-1zM402.3 744.9h1v1h-1zM693.2 736.6h1v1h-1zM585.9 743.6h1v1h-1zM537.2 740.0h1v1h-1zM316.5 737.9h1v1h-1zM280.2 734.8h1v1h-1zM493.3 737.3h1v1h-1zM624.0 734.5h1v1h-1zM679.1 742.0h1v1h-1zM691.1 744.3h1v1h-1zM676.8 740.6h1v1h-1zM153.8 742.6h1v1h-1zM247.4 737.4h1v1h-1zM537.1 740.0h1v1h-1zM390.1 744.8h1v1h-1zM507.2 737.9h1v1h-1zM295.0 743.9h1v1h-1zM427.5 743.0h1v1h-1zM353.6 736.3h1v1h-1zM461.4 743.4h1v1h-1zM247.1 743.1h1v1h-1zM689.8 743.3h1v1h-1zM631.9 734.1h1v1h-1zM516.9 743.9h1v1h-1zM175.5 737.1h1v1h-1zM304.5 740.1h1v1h-1zM395.6 739.4h1v1h-1zM604.1 734.0h1v1h-1zM178.4 735.5h1v1h-1zM219.5 734.8h1v1h-1zM721.1 743.8h1v1h-1zM196.8 739.8h1v1h-1zM332.4 737.6h1v1h-1zM353.3 741.4h1v1h-1zM492.1 738.1h1v1h-1zM258.7 737.8h1v1h-1zM219.0 740.4h1v1h-1zM568.5 738.4h1v1h-1zM193.1 736.1h1v1h-1zM366.2 741.0h1v1h-1zM607.7 738.4h1v1h-1zM618.7 741.2h1v1h-1zM400.6 738.3h1v1h-1zM438.7 742.1h1v1h-1zM394.1 742.0h1v1h-1zM417.9 736.8h1v1h-1zM462.1 742.0h1v1h-1zM188.2 738.9h1v1h-1zM397.3 744.1h1v1h-1zM698.5 738.3h1v1h-1zM675.7 743.1h1v1h-1zM300.7 739.3h1v1h-1zM218.7 743.4h1v1h-1zM536.8 744.2h1v1h-1zM613.6 741.7h1v1h-1zM578.9 740.5h1v1h-1zM206.8 740.8h1v1h-1zM148.9 735.7h1v1h-1zM602.8 734.5h1v1h-1zM200.2 735.1h1v1h-1zM665.5 736.1h1v1h-1zM159.9 743.7h1v1h-1zM217.6 743.7h1v1h-1zM543.4 743.6h1v1h-1zM707.9 740.7h1v1h-1zM617.3 734.4h1v1h-1zM598.8 739.9h1v1h-1zM567.9 735.2h1v1h-1zM587.9 744.7h1v1h-1zM182.1 737.7h1v1h-1zM478.7 743.5h1v1h-1zM288.9 736.1h1v1h-1zM293.5 741.1h1v1h-1zM590.6 738.5h1v1h-1zM362.8 738.6h1v1h-1zM352.7 738.8h1v1h-1zM195.1 739.8h1v1h-1zM720.1 738.7h1v1h-1zM587.0 735.8h1v1h-1zM553.6 742.7h1v1h-1zM543.6 739.9h1v1h-1zM431.4 741.4h1v1h-1zM675.5 735.7h1v1h-1zM202.6 742.6h1v1h-1zM686.8 739.9h1v1h-1zM407.4 742.3h1v1h-1zM255.8 737.1h1v1h-1zM263.5 740.7h1v1h-1zM331.8 736.7h1v1h-1zM553.8 745.0h1v1h-1zM320.6 742.1h1v1h-1zM389.8 743.8h1v1h-1zM490.9 737.1h1v1h-1zM274.4 734.3h1v1h-1zM428.9 738.4h1v1h-1zM247.6 738.1h1v1h-1zM336.0 742.9h1v1h-1zM230.7 745.4h1v1h-1zM429.0 740.9h1v1h-1zM422.2 743.6h1v1h-1zM630.8 740.4h1v1h-1zM430.0 742.3h1v1h-1zM651.4 738.6h1v1h-1zM578.8 745.0h1v1h-1zM421.8 736.6h1v1h-1zM284.5 742.3h1v1h-1zM544.5 745.0h1v1h-1zM649.8 736.8h1v1h-1zM257.9 737.0h1v1h-1zM256.4 742.1h1v1h-1zM652.6 744.3h1v1h-1zM296.5 743.9h1v1h-1zM330.9 738.9h1v1h-1zM576.1 735.0h1v1h-1zM200.7 743.6h1v1h-1zM318.1 738.1h1v1h-1zM488.4 741.8h1v1h-1zM150.1 737.9h1v1h-1zM403.4 739.6h1v1h-1zM270.0 740.7h1v1h-1zM709.6 738.5h1v1h-1zM467.2 735.4h1v1h-1zM308.1 741.7h1v1h-1zM212.4 744.2h1v1h-1zM682.2 735.1h1v1h-1zM701.4 738.3h1v1h-1z" fill="#8b4513" fill-opacity="0.28"/>
<line x1="143.5" y1="513" x2="143.5" y2="759" stroke="#262626" stroke-width="1" />
<line x1="143" y1="758.5" x2="739" y2="758.5" stroke="#262626" stroke-width="1" />
<rect x="738" y="513" width="2" height="246" fill="#c6f1c2" />
<rect x="143" y="746.7" width="595" height="3.8" fill="#fdd835" />
<line x1="143" y1="513.5" x2="149" y2="513.5" stroke="#262626" stroke-width="1" />
<text x="138" y="517.9" font-size="14" text-anchor="end" font-weight="normal" fill="#262626" >7200</text>
<line x1="143" y1="531.5" x2="149" y2="531.5" stroke="#262626" stroke-width="1" />
<text x="138" y="536.9" font-size="14" text-anchor="end" font-weight="normal" fill="#262626" >7100</text>
<line x1="143" y1="550.5" x2="149" y2="550.5" stroke="#262626" stroke-width="1" />
<text x="138" y="555.9" font-size="14" text-anchor="end" font-weight="normal" fill="#262626" >7000</text>
<line x1="143" y1="569.5" x2="149" y2="569.5" stroke="#262626" stroke-width="1" />
<text x="138" y="574.9" font-size="14" text-anchor="end" font-weight="normal" fill="#262626" >6900</text>
<line x1="143" y1="588.5" x2="149" y2="588.5" stroke="#262626" stroke-width="1" />
<text x="138" y="593.9" font-size="14" text-anchor="end" font-weight="normal" fill="#262626" >6800</text>
<line x1="143" y1="607.5" x2="149" y2="607.5" stroke="#262626" stroke-width="1" />
<text x="138" y="612.9" font-size="14" text-anchor="end" font-weight="normal" fill="#262626" >6700</text>
<line x1="143" y1="626.5" x2="149" y2="626.5" stroke="#262626" stroke-width="1" />
<text x="138" y="631.9" font-size="14" text-anchor="end" font-weight="normal" fill="#262626" >6600</text>
<line x1="143" y1="645.5" x2="149" y2="645.5" stroke="#262626" stroke-width="1" />
<text x="138" y="650.9" font-size="14" text-anchor="end" font-weight="normal" fill="#262626" >6500</text>
<line x1="143" y1="664.5" x2="149" y2="664.5" stroke="#262626" stroke-width="1" />
<text x="138" y="669.9" font-size="14" text-anchor="end" font-weight="normal" fill="#262626" >6400</text>
<line x1="143" y1="683.5" x2="149" y2="683.5" stroke="#262626" stroke-width="1" />
<text x="138" y="688.9" font-size="14" text-anchor="end" font-weight="normal" fill="#262626" >6300</text>
<line x1="143" y1="702.5" x2="149" y2="702.5" stroke="#262626" stroke-width="1" />
<text x="138" y="707.9" font-size="14" text-anchor="end" font-weight="normal" fill="#262626" >6200</text>
<line x1="143" y1="721.5" x2="149" y2="721.5" stroke="#262626" stroke-width="1" />
<text x="138" y="726.9" font-size="14" text-anchor="end" font-weight="normal" fill="#262626" >6100</text>
<line x1="143" y1="740.5" x2="149" y2="740.5" stroke="#262626" stroke-width="1" />
<text x="138" y="745.9" font-size="14" text-anchor="end" font-weight="normal" fill="#262626" >6000</text>
<text x="138" y="764.9" font-size="14" text-anchor="end" font-weight="normal" fill="#262626" >5900</text>
<line x1="143.5" y1="753" x2="143.5" y2="758" stroke="#262626" stroke-width="1" />
<text x="143.0" y="777" font-size="14" text-anchor="middle" font-weight="normal" fill="#262626" >0</text>
<line x1="202.5" y1="753" x2="202.5" y2="758" stroke="#262626" stroke-width="1" />
<text x="202.5" y="777" font-size="14" text-anchor="middle" font-weight="normal" fill="#262626" >0.1</text>
<line x1="262.5" y1="753" x2="262.5" y2="758" stroke="#262626" stroke-width="1" />
<text x="262.0" y="777" font-size="14" text-anchor="middle" font-weight="normal" fill="#262626" >0.2</text>
<line x1="322.5" y1="753" x2="322.5" y2="758" stroke="#262626" stroke-width="1" />
<text x="321.5" y="777" font-size="14" text-anchor="middle" font-weight="normal" fill="#262626" >0.3</text>
<line x1="381.5" y1="753" x2="381.5" y2="758" stroke="#262626" stroke-width="1" />
<text x="381.0" y="777" font-size="14" text-anchor="middle" font-weight="normal" fill="#262626" >0.4</text>
<line x1="440.5" y1="753" x2="440.5" y2="758" stroke="#262626" stroke-width="1" />
<text x="440.5" y="777" font-size="14" text-anchor="middle" font-weight="normal" fill="#262626" >0.5</text>
<line x1="500.5" y1="753" x2="500.5" y2="758" stroke="#262626" stroke-width="1" />
<text x="500.0" y="777" font-size="14" text-anchor="middle" font-weight="normal" fill="#262626" >0.6</text>
<line x1="560.5" y1="753" x2="560.5" y2="758" stroke="#262626" stroke-width="1" />
<text x="559.5" y="777" font-size="14" text-anchor="middle" font-weight="normal" fill="#262626" >0.7</text>
<line x1="619.5" y1="753" x2="619.5" y2="758" stroke="#262626" stroke-width="1" />
<text x="619.0" y="777" font-size="14" text-anchor="middle" font-weight="normal" fill="#262626" >0.8</text>
<line x1="678.5" y1="753" x2="678.5" y2="758" stroke="#262626" stroke-width="1" />
<text x="678.5" y="777" font-size="14" text-anchor="middle" font-weight="normal" fill="#262626" >0.9</text>
<line x1="738.5" y1="753" x2="738.5" y2="758" stroke="#262626" stroke-width="1" />
<text x="738.0" y="777" font-size="14" text-anchor="middle" font-weight="normal" fill="#262626" >1</text>
<text x="441.5" y="796" font-size="15.3" text-anchor="middle" font-weight="normal" fill="#262626" >Time (seconds)</text>
<text x="0" y="0" font-size="15.4" text-anchor="middle" font-weight="normal" fill="#262626" transform="translate(99,636) rotate(-90)">Frequency (MHz)</text>
<rect x="754.5" y="10.5" width="323" height="271" fill="none" stroke="#808080" stroke-width="1" />
<rect x="754.5" y="291.5" width="323" height="212" fill="none" stroke="#808080" stroke-width="1" />
<rect x="754.5" y="514.5" width="323" height="294" fill="none" stroke="#808080" stroke-width="1" />
<text x="765.5" y="36" font-size="14" text-anchor="start" font-weight="bold" fill="#141414" >Operating States</text>
<rect x="765.5" y="51.5" width="54" height="19" fill="#007a14" stroke="#808080" stroke-width="1" />
<text x="829.7" y="66" font-size="14" text-anchor="start" font-weight="normal" fill="#141414" >Transmission</text>
<rect x="765.5" y="81.5" width="54" height="19" fill="#ffffff" stroke="#808080" stroke-width="1" />
<text x="829.7" y="96" font-size="14" text-anchor="start" font-weight="normal" fill="#141414" >Idle/EIFS/SIFS</text>
<rect x="765.5" y="111.5" width="54" height="19" fill="#edb120" stroke="#808080" stroke-width="1" />
<text x="829.7" y="126" font-size="14" text-anchor="start" font-weight="normal" fill="#141414" >Contention</text>
<rect x="765.5" y="141.5" width="54" height="19" fill="#0a00aa" stroke="#808080" stroke-width="1" />
<text x="829.7" y="156" font-size="14" text-anchor="start" font-weight="normal" fill="#141414" >Reception (Destined to node)</text>
<rect x="765.5" y="171.5" width="54" height="19" fill="#ffdab9" stroke="#808080" stroke-width="1" />
<text x="829.7" y="186" font-size="14" text-anchor="start" font-weight="normal" fill="#141414" >Reception</text>
<rect x="765.5" y="201.5" width="54" height="19" fill="#74e8d9" stroke="#808080" stroke-width="1" />
<text x="829.7" y="216" font-size="14" text-anchor="start" font-weight="normal" fill="#141414" >Reception Success</text>
<rect x="765.5" y="231.5" width="54" height="19" fill="#b3302b" stroke="#808080" stroke-width="1" />
<text x="829.7" y="246" font-size="14" text-anchor="start" font-weight="normal" fill="#141414" >Reception Failure</text>
<rect x="765.5" y="341.5" width="13" height="13" fill="#ffffff" stroke="#505050" stroke-width="1" />
<path d="M767.8,347.9 L770.4,350.8 L776.1,344" fill="none" stroke="#262626" stroke-width="2.1" stroke-linecap="round"/>
<text x="782.5" y="352" font-size="14" text-anchor="start" font-weight="normal" fill="#141414" >Full view</text>
<rect x="765.5" y="403.5" width="72" height="89" fill="#f5f5f5" stroke="#808080" stroke-width="1" rx="4" />
<text x="801.5" y="452" font-size="14" text-anchor="middle" font-weight="normal" fill="#141414" >Export</text>
<rect x="765.5" y="525.5" width="54" height="19" fill="#ffd700" stroke="#808080" stroke-width="1" />
<text x="829.7" y="539" font-size="14" text-anchor="start" font-weight="normal" fill="#141414" >WLAN</text>
<rect x="765.5" y="555.5" width="54" height="19" fill="#803300" stroke="#808080" stroke-width="1" />
<text x="829.7" y="569" font-size="14" text-anchor="start" font-weight="normal" fill="#141414" >Bluetooth LE 6 GHz</text>
<text x="765" y="609" font-size="14" text-anchor="start" font-weight="normal" fill="#141414" >Freq Band</text>
<rect x="960.5" y="585.5" width="106" height="39" fill="#f5f5f5" stroke="#d0d0d0" stroke-width="1" rx="4" />
<text x="965.5" y="609" font-size="12" text-anchor="start" font-weight="normal" fill="#ababab" >6 GHz band</text>
<path d="M1051,602.3 L1059,602.3 L1055,607.6 z" fill="#b4b4b4"/>
</svg>
</body></html>
